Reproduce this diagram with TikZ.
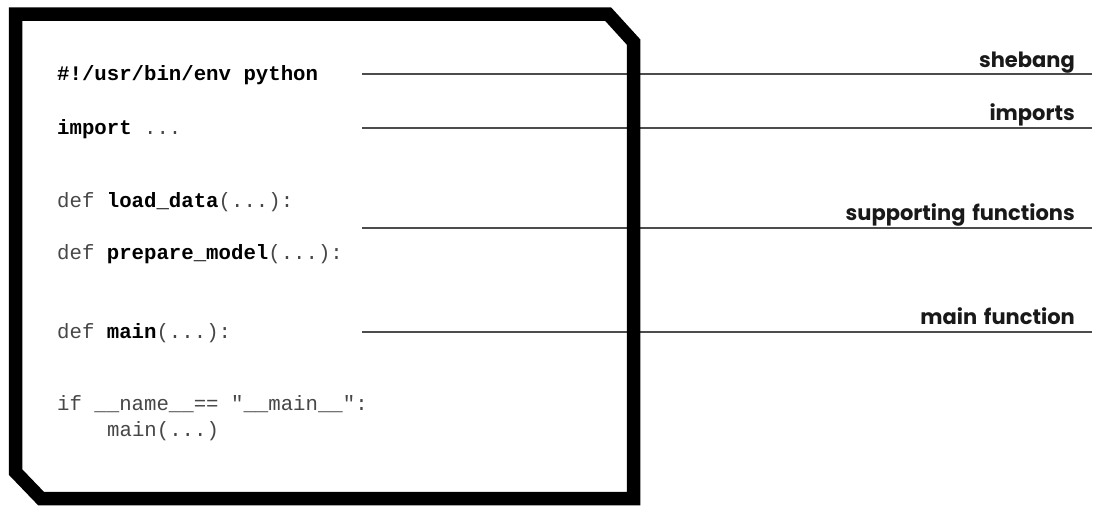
\documentclass[tikz,border=0pt]{standalone}
\usepackage{fontspec}
\newfontfamily\codefont{Liberation Mono}
\newfontfamily\lblfont{Poppins}[WordSpace=1.5]
\begin{document}
\begin{tikzpicture}[x=1pt,y=-1pt,
  code/.style={anchor=base west,inner sep=0pt,font=\codefont\fontsize{20.7}{24}\selectfont,text=black!72},
  lbl/.style={anchor=base east,inner sep=0pt,font=\lblfont\bfseries\fontsize{21}{24}\selectfont,text=black!90},
  rule/.style={draw=black!70,line width=1.4pt},
  frame/.style={draw=black,line width=13.5pt,miter limit=10}]
\useasboundingbox (0,0) rectangle (1103,514);
% rules
\coordinate (s1) at (362,74);  \coordinate (e1) at (1092,74);
\coordinate (s2) at (362,128); \coordinate (e2) at (1092,128);
\coordinate (s3) at (362,228); \coordinate (e3) at (1092,228);
\coordinate (s4) at (362,332); \coordinate (e4) at (1092,332);
\draw[rule] (s1) -- (e1);
\draw[rule] (s2) -- (e2);
\draw[rule] (s3) -- (e3);
\draw[rule] (s4) -- (e4);
% frame
\draw[frame] (15.5,14) -- (608,14) -- (633.5,42) -- (633.5,498.5) -- (41,498.5) -- (15.5,472) -- cycle;
% code
\newcommand\kw[1]{\textcolor{black}{\textbf{#1}}}
\node[code] (c1) at (57,80) {\kw{\#!/usr/bin/env python}};
\node[code] (c2) at (57,134) {\kw{import} ...};
\node[code] (c3) at (57,207) {def \kw{load\_data}(...):};
\node[code] (c4) at (57,259) {def \kw{prepare\_model}(...):};
\node[code] (c5) at (57,338) {def \kw{main}(...):};
\node[code] (c6) at (57,410) {if \_\_name\_\_== "\_\_main\_\_":};
\node[code] (c7) at (107,436) {main(...)};
% labels
\node[lbl] (l1) at (1075,67) {shebang};
\node[lbl] (l2) at (1075,120) {imports};
\node[lbl] (l3) at (1075,220) {supporting functions};
\node[lbl] (l4) at (1075,324) {main function};
\end{tikzpicture}
\end{document}
